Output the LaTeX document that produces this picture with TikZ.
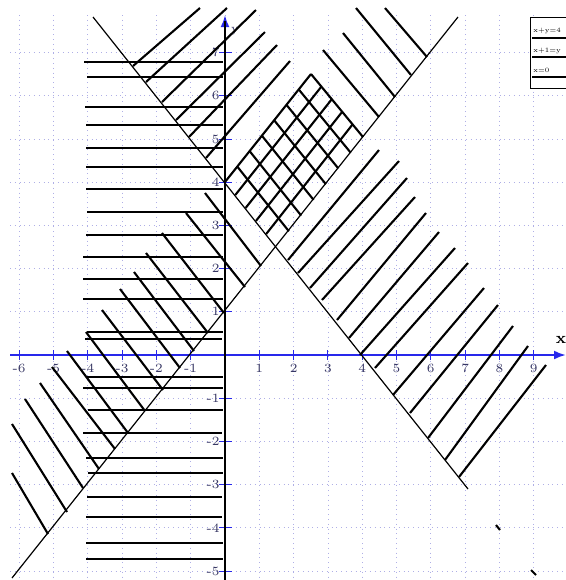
\documentclass[tikz,border=0pt]{standalone}
\usetikzlibrary{arrows.meta}
\definecolor{gridc}{RGB}{175,175,230}
\definecolor{axisc}{RGB}{40,40,235}
\definecolor{labc}{RGB}{55,55,100}
\begin{document}
\begin{tikzpicture}[x=0.5pt,y=-0.5pt,
  gridline/.style={draw=gridc, line width=0.4pt, dotted},
  axisline/.style={draw=axisc, line width=1.1pt},
  tickline/.style={draw=axisc, line width=0.5pt},
  boundary/.style={draw=black, line width=0.6pt},
  hatch/.style={draw=black, line width=1.05pt},
  hhatch/.style={draw=black, line width=1.35pt},
  ticklab/.style={font=\fontsize{6.3}{7}\selectfont, text=labc, inner sep=0pt},
  legtext/.style={font=\fontsize{3.3}{4}\selectfont, inner sep=0pt, anchor=west},
]
\useasboundingbox (0,0) rectangle (566,580);
\fill[white] (0,0) rectangle (566,580);

% grid
\foreach \k in {-6,...,9} \draw[gridline] ({225+34.3*\k},15) -- ({225+34.3*\k},580);
\foreach \k in {-5,...,7} \draw[gridline] (10,{355-43.2*\k}) -- (566,{355-43.2*\k});

% axes
\draw[axisline,-{Latex[length=6pt,width=4.5pt]}] (10,355) -- (566,355);
\draw[axisline,-{Latex[length=6pt,width=4.5pt]}] (225,580) -- (225,15);
\foreach \k in {-6,...,-1,1,2,...,9} {
  \draw[tickline] ({225+34.3*\k},350) -- ({225+34.3*\k},360);
  \node[ticklab] (xl\k) at ({225+34.3*\k},368) {\k};
}
\foreach \k in {-5,...,-1,1,2,...,7} {
  \draw[tickline] (219,{355-43.2*\k}) -- (232,{355-43.2*\k});
  \node[ticklab, anchor=east] (yl\k) at (220,{355-43.2*\k}) {\k};
}
\node[font=\fontsize{8}{9}\selectfont\bfseries, inner sep=0pt] (xlab) at (561,340) {x};
\node[font=\fontsize{6}{7}\selectfont, text=labc, inner sep=0pt] (ylab) at (235,31) {y};

% horizontal hatching
\foreach \y/\a/\b in {62/84/223, 77/87/223, 107/85/223, 125/86/223, 148/86/223,
  167/86/223, 189/86/223, 212/87/223, 235/86/223, 257/83/223, 279/83/223,
  299/83/223, 332/87/223, 339/85/222, 377/87/223, 388/83/223, 410/88/223,
  433/83/222, 458/86/223, 473/88/223, 497/87/222, 517/86/222, 543/86/223, 559/86/223}
  \draw[hhatch] (\a,\y) -- (\b,\y);

% "\" hatching along y=x+1 (left part)
\foreach \a/\b/\c/\d in {205/193/261/266, 186/213/245/287, 162/233/224/313,
  146/253/208/333, 134/272/194/351, 120/289/180/368, 102/310/163/390,
  86/332/145/411, 67/351/128/433, 52/367/115/449, 40/383/99/469,
  25/399/83/488, 12/424/67/512, 12/473/48/534}
  \draw[hatch] (\a,\b) -- (\c,\d);

% "/" hatching from x+y=4 (upper left)
\foreach \a/\b/\c/\d in {133/66/200/8, 146/82/227/8, 162/102/256/10,
  176/120/265/32, 189/137/277/45, 206/158/290/61, 225/182/311/74}
  \draw[hatch] (\a,\b) -- (\c,\d);

% crosshatch "/"
\foreach \a/\b/\c/\d in {235.3/195/321.4/86.6, 245.6/208/331.8/99.2,
  255.9/221/342.2/111.8, 266.2/234/352.6/124.4}
  \draw[hatch] (\a,\b) -- (\c,\d);
% crosshatch "\"
\foreach \a/\b/\c/\d in {237.3/166.6/288.9/231.3, 249.6/151.1/301.2/215.6,
  261.9/135.7/313.6/199.9, 274.2/120.3/325.9/184.2, 286.5/104.9/338.3/168.4,
  298.7/89.4/350.7/152.7, 311/74/363/137}
  \draw[hatch] (\a,\b) -- (\c,\d);

% "\" hatching ending on y=x+1 (upper right)
\foreach \a/\b/\c/\d in {323/50/379/117, 343/33/395/97, 356/8/411/75, 385/8/427/57}
  \draw[hatch] (\a,\b) -- (\c,\d);

% "/" hatching from x+y=4 (lower right)
\foreach \a/\b/\c/\d in {459/477/546/365, 445/460/528/346, 428/438/513/326,
  410/413/498/305, 393/395/484/288, 375/368/468/263, 360/355/455/248,
  349/338/439/232, 337/320/426/213, 322/300/415/197, 310/288/407/178,
  298/273/399/161, 288/260/379/150}
  \draw[hatch] (\a,\b) -- (\c,\d);

% small marks
\draw[hatch] (496,525) -- (500,530);
\draw[hatch] (531,570) -- (536,575);

% boundary lines
\draw[boundary] (93,17) -- (468,489);
\draw[boundary] (12,578) -- (458,17);
\draw[line width=1pt] (225,21) -- (225,580);

% legend
\draw[fill=white, line width=0.5pt] (530,17) rectangle (569,88);
\node[legtext] (lg1) at (533,31) {x+y=4};
\draw[line width=1pt] (532,38) -- (566,38);
\node[legtext] (lg2) at (533,51) {x+1=y};
\draw[line width=1pt] (532,57) -- (566,57);
\node[legtext] (lg3) at (533,70) {x=0};
\draw[line width=1pt] (532,77) -- (566,77);
\end{tikzpicture}
\end{document}
